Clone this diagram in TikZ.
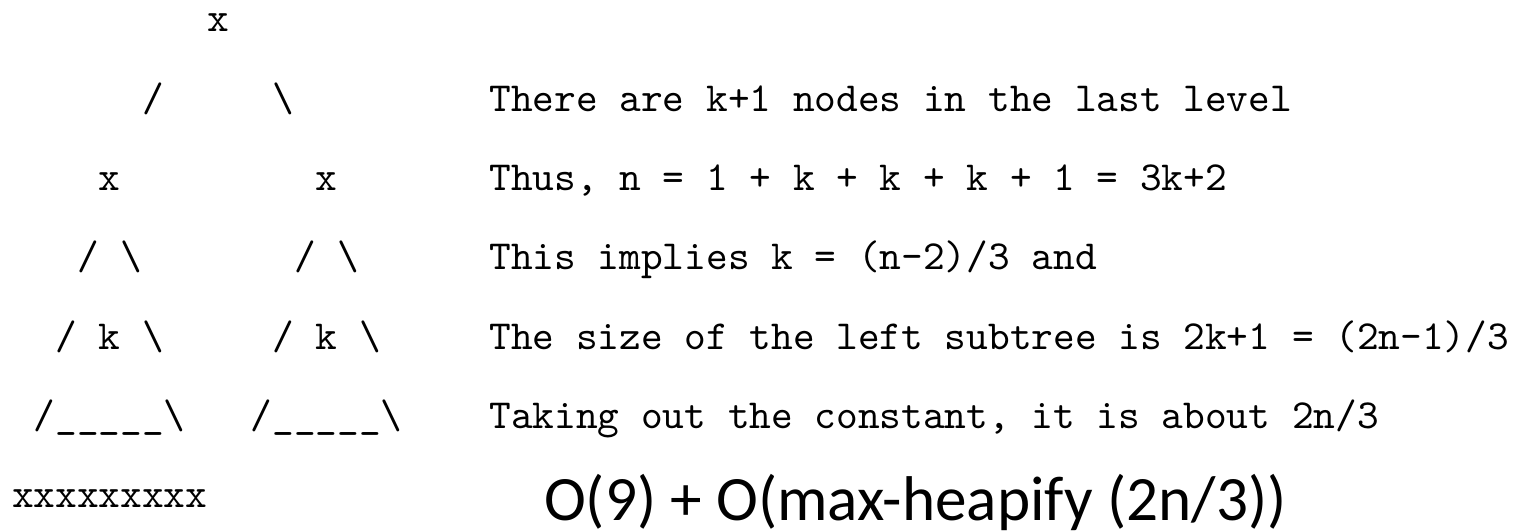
\documentclass[tikz,border=0pt]{standalone}
\usepackage{fontspec}
\newfontfamily\calib{Carlito}
\begin{document}
\begin{tikzpicture}[x=0.25pt,y=-0.25pt,
  tt/.style={inner sep=0pt,outer sep=0pt,anchor=base west,font=\fontsize{10.33pt}{12pt}\selectfont\ttfamily},
  big/.style={inner sep=0pt,outer sep=0pt,anchor=base west,font=\fontsize{15.8pt}{18pt}\selectfont\calib}]
\useasboundingbox (0,0) rectangle (1527,532);
% tree
\node[tt] (r1) at (12,32)    {~~~~~~~~~x};
\node[tt] (r2) at (12,111.3) {~~~~~~/~~~~~\textbackslash};
\node[tt] (r3) at (12,190.6) {~~~~x~~~~~~~~~x};
\node[tt] (r4) at (12,270)   {~~~/~\textbackslash~~~~~~~/~\textbackslash};
\node[tt] (r5) at (12,349.3) {~~/~k~\textbackslash~~~~~/~k~\textbackslash};
\node[tt] (r6) at (12,428.6) {~/\_\_\_\_\_\textbackslash~~~/\_\_\_\_\_\textbackslash};
\node[tt] (r7) at (12,508)   {xxxxxxxxx};
% text
\node[tt] (t2) at (489.4,111.3) {There are k+1 nodes in the last level};
\node[tt] (t3) at (489.4,190.6) {Thus, n = 1 + k + k + k + 1 = 3k+2};
\node[tt] (t4) at (489.4,270)   {This implies k = (n-2)/3 and};
\node[tt] (t5) at (489.4,349.3) {The size of the left subtree is 2k+1 = (2n-1)/3};
\node[tt] (t6) at (489.4,428.6) {Taking out the constant, it is about 2n/3};
\node[big] (t7) at (544,521) {O(9) + O(max-heapify (2n/3))};
\end{tikzpicture}
\end{document}
